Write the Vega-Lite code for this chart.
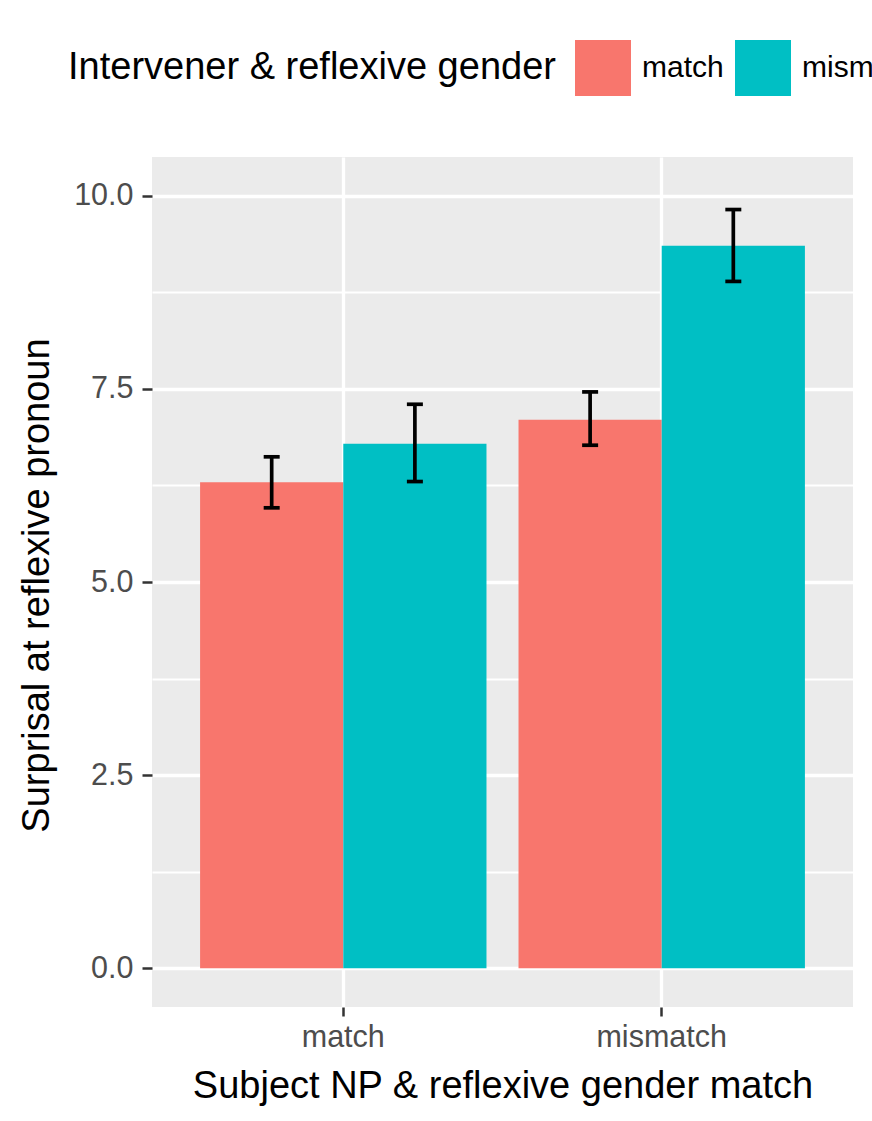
{
  "$schema": "https://vega.github.io/schema/vega-lite/v6.json",
  "autosize": "none",
  "width": 701,
  "height": 850,
  "padding": {"left": 152, "top": 157, "right": 19, "bottom": 114},
  "background": "white",
  "config": {
    "font": "Liberation Sans",
    "view": {"fill": "#EBEBEB", "stroke": null}
  },
  "data": {
    "values": [
      {"subject": "match", "intervener": "match", "surprisal": 6.29, "lo": 5.96, "hi": 6.62},
      {"subject": "match", "intervener": "mismatch", "surprisal": 6.79, "lo": 6.30, "hi": 7.30},
      {"subject": "mismatch", "intervener": "match", "surprisal": 7.10, "lo": 6.77, "hi": 7.46},
      {"subject": "mismatch", "intervener": "mismatch", "surprisal": 9.35, "lo": 8.89, "hi": 9.82}
    ]
  },
  "encoding": {
    "x": {
      "field": "subject",
      "type": "nominal",
      "scale": {"domain": ["match", "mismatch"], "paddingInner": 0.1006, "paddingOuter": 0.151},
      "axis": {
        "title": "Subject NP & reflexive gender match",
        "bandPosition": 0.5,
        "grid": true,
        "gridColor": "white",
        "gridWidth": 3.3,
        "domain": false,
        "tickColor": "#333333",
        "tickSize": 9,
        "tickWidth": 2.5,
        "labelAngle": 0,
        "labelFontSize": 30.5,
        "labelColor": "#4D4D4D",
        "labelBaseline": "alphabetic",
        "labelPadding": 30,
        "titleFontSize": 38,
        "titleFontWeight": "normal",
        "titleColor": "black",
        "titleX": 350.5,
        "titleY": 90,
        "titleBaseline": "alphabetic",
        "titleAlign": "center"
      }
    },
    "xOffset": {
      "field": "intervener",
      "type": "nominal",
      "scale": {"domain": ["match", "mismatch"], "paddingInner": 0, "paddingOuter": 0}
    }
  },
  "layer": [
    {
      "mark": {"type": "rule", "opacity": 0},
      "encoding": {
        "y": {
          "field": "lo",
          "type": "quantitative",
          "scale": {"domain": [-0.5, 10.5], "nice": false, "zero": false},
          "axis": {
            "orient": "left",
            "values": [1.25, 3.75, 6.25, 8.75],
            "grid": true,
            "gridColor": "white",
            "gridWidth": 1.8,
            "ticks": false,
            "labels": false,
            "domain": false,
            "title": null
          }
        },
        "y2": {"field": "hi"}
      }
    },
    {
      "mark": {"type": "bar"},
      "encoding": {
        "y": {
          "field": "surprisal",
          "type": "quantitative",
          "stack": null,
          "scale": {"domain": [-0.5, 10.5], "nice": false, "zero": false},
          "axis": {
            "orient": "left",
            "values": [0, 2.5, 5, 7.5, 10],
            "format": ".1f",
            "grid": true,
            "gridColor": "white",
            "gridWidth": 3.3,
            "domain": false,
            "tickColor": "#333333",
            "tickSize": 10,
            "tickWidth": 2.5,
            "labelFontSize": 30.5,
            "labelColor": "#4D4D4D",
            "labelPadding": 9,
            "title": "Surprisal at reflexive pronoun",
            "titleFontSize": 38,
            "titleFontWeight": "normal",
            "titleColor": "black",
            "titleAngle": 270,
            "titleX": -104,
            "titleY": 428,
            "titleBaseline": "alphabetic",
            "titleAlign": "center"
          }
        },
        "y2": {"datum": 0},
        "color": {
          "field": "intervener",
          "type": "nominal",
          "scale": {"domain": ["match", "mismatch"], "range": ["#F8766D", "#00BFC4"]},
          "legend": {
            "orient": "none",
            "legendX": -84,
            "legendY": -117,
            "direction": "horizontal",
            "title": "Intervener & reflexive gender",
            "titleOrient": "left",
            "titleLimit": 1000,
            "titleFontSize": 38,
            "titleFontWeight": "normal",
            "titleColor": "black",
            "titlePadding": 19,
            "titleBaseline": "middle",
            "titleAnchor": "middle",
            "symbolType": "square",
            "symbolSize": 3136,
            "symbolStrokeWidth": 0,
            "symbolOpacity": 1,
            "labelFontSize": 30,
            "labelColor": "black",
            "labelOffset": 11,
            "columnPadding": 11,
            "padding": 0
          }
        }
      }
    },
    {
      "mark": {"type": "rule", "color": "black", "strokeWidth": 3.7},
      "encoding": {
        "y": {"field": "lo", "type": "quantitative", "scale": {"domain": [-0.5, 10.5], "nice": false, "zero": false}, "axis": null},
        "y2": {"field": "hi"}
      }
    },
    {
      "mark": {"type": "tick", "color": "black", "size": 16, "thickness": 3.7, "opacity": 1},
      "encoding": {
        "y": {"field": "lo", "type": "quantitative", "scale": {"domain": [-0.5, 10.5], "nice": false, "zero": false}, "axis": null}
      }
    },
    {
      "mark": {"type": "tick", "color": "black", "size": 16, "thickness": 3.7, "opacity": 1},
      "encoding": {
        "y": {"field": "hi", "type": "quantitative", "scale": {"domain": [-0.5, 10.5], "nice": false, "zero": false}, "axis": null}
      }
    }
  ],
  "resolve": {"axis": {"y": "independent"}}
}
